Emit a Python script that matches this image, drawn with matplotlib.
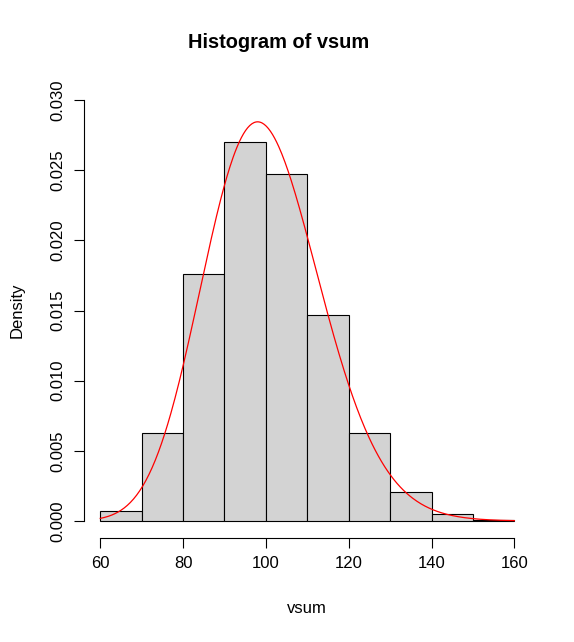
import math
import numpy as np
import matplotlib
matplotlib.use('Agg')
import matplotlib.pyplot as plt

plt.rcParams['font.family'] = ['Liberation Sans', 'DejaVu Sans']

# histogram of 1000 values, bins of width 10
bin_edges = [60, 70, 80, 90, 100, 110, 120, 130, 140, 150, 160]
counts = [7, 63, 176, 270, 247, 147, 63, 21, 5, 1]
n_total = 1000
# overlaid theoretical curve: chi-square density
chisq_df = 100

x_ticks = [60, 80, 100, 120, 140, 160]
y_ticks = [0.000, 0.005, 0.010, 0.015, 0.020, 0.025, 0.030]


def dchisq(x, k):
    return np.exp((k / 2 - 1) * np.log(x) - x / 2 - (k / 2) * math.log(2) - math.lgamma(k / 2))


edges = np.array(bin_edges, dtype=float)
widths = np.diff(edges)
dens = np.array(counts) / (n_total * widths)

fig = plt.figure(figsize=(5.74, 6.42), dpi=100)
ax = fig.add_axes([0.1458, 0.1623, 0.7792, 0.7081])

ax.bar(edges[:-1], dens, width=widths, align='edge', color='#d3d3d3',
       edgecolor='black', linewidth=0.8)

xs = np.linspace(edges[0], edges[-1], 400)
ax.plot(xs, dchisq(xs, chisq_df), color='red', linewidth=0.9)

ax.set_xlim(56, 164)
ax.set_ylim(-0.0012, 0.0312)
for s in ['top', 'right']:
    ax.spines[s].set_visible(False)
ax.spines['left'].set_bounds(0, 0.03)
ax.spines['bottom'].set_bounds(60, 160)
ax.spines['left'].set_linewidth(0.8)
ax.spines['bottom'].set_linewidth(0.8)

ax.set_xticks(x_ticks)
ax.set_xticklabels([str(v) for v in x_ticks], fontsize=12)
ax.set_yticks(y_ticks)
ax.set_yticklabels(['%.3f' % v for v in y_ticks], fontsize=12, rotation=90, va='center')
ax.tick_params(length=7, width=0.8, pad=6)

ax.set_xlabel('vsum', fontsize=12, labelpad=22)
ax.set_ylabel('Density', fontsize=12, labelpad=19)
fig.text(279 / 574, 1 - 43 / 642, 'Histogram of vsum', fontsize=14.4,
         fontweight='bold', ha='center', va='center')

fig.savefig('out.png', dpi=100)
